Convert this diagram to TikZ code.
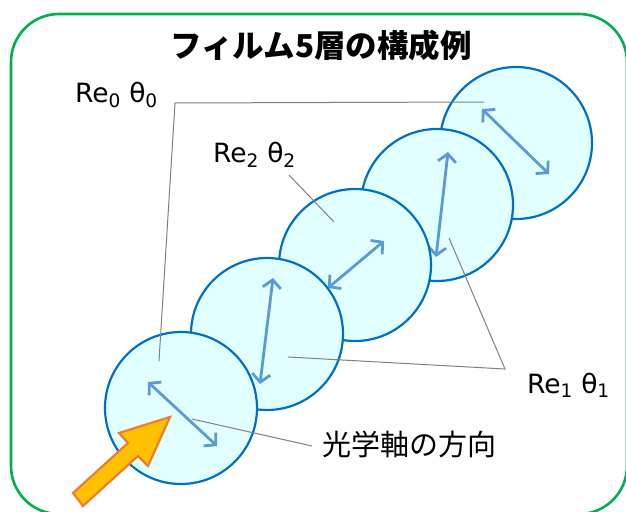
\documentclass[tikz,border=0pt]{standalone}
\usepackage{fontspec}
\setmainfont{DejaVu Sans}
\newfontfamily\jpfont{Noto Sans CJK JP}
\usepackage{tikz}
\usetikzlibrary{calc,arrows.meta}

\definecolor{framegreen}{RGB}{0,176,80}
\definecolor{filmblue}{RGB}{0,112,192}
\definecolor{filmfill}{RGB}{225,255,255}
\definecolor{axisblue}{RGB}{91,155,213}
\definecolor{leadergray}{RGB}{128,128,128}
\definecolor{beamfill}{RGB}{255,192,0}
\definecolor{beamline}{RGB}{237,125,49}

\begin{document}
\begin{tikzpicture}[x=1pt, y=-1pt, outer sep=0pt]

\tikzstyle{film}=[circle,draw=filmblue,fill=filmfill,line width=2.2pt,minimum size=152pt,inner sep=0pt]
\tikzstyle{optaxis}=[draw=axisblue,line width=2.8pt,{Straight Barb[length=8pt,width=18pt]}-{Straight Barb[length=8pt,width=18pt]}]
\tikzstyle{leader}=[draw=leadergray,line width=1pt]
\tikzstyle{paramtext}=[inner sep=0pt,anchor=base west,font=\fontsize{26.5}{30}\selectfont]

\useasboundingbox (0,0) rectangle (626,511);
\draw[framegreen,line width=2.6pt,rounded corners=48pt] (11,14) rectangle (627,514);

\node[font=\jpfont\bfseries\fontsize{31.5}{34}\selectfont] (title) at (321,45) {フィルム5層の構成例};

% five films, back to front
\node[film] (f5) at (516,143) {};
\draw[optaxis] ($(f5)+(-34,-34)$) -- ($(f5)+(33,31)$);
\node[film] (f4) at (437,205) {};
\draw[optaxis] ($(f4)+(11,-53)$) -- ($(f4)+(-1,52)$);
\node[film] (f3) at (355,265) {};
\draw[optaxis] ($(f3)+(-27,23)$) -- ($(f3)+(29,-24)$);
\node[film] (f2) at (267,334) {};
\draw[optaxis] ($(f2)+(6,-56)$) -- ($(f2)+(-7,50)$);
\node[film] (f1) at (181,408) {};
\draw[optaxis] ($(f1)+(-33,-26)$) -- ($(f1)+(36,38)$);

% labels
\node[paramtext] (re0) at (75,102) {Re\textsubscript{0} θ\textsubscript{0}};
\node[paramtext] (re2) at (213,162) {Re\textsubscript{2} θ\textsubscript{2}};
\node[paramtext] (re1) at (527,393) {Re\textsubscript{1} θ\textsubscript{1}};
\node[anchor=west,inner sep=0pt,font=\jpfont\fontsize{29}{32}\selectfont] (axis) at (322,444) {光学軸の方向};

\coordinate (k0) at (175,103);
\coordinate (k1) at (505,369);
\coordinate (k2) at (289,175);
\coordinate (k3) at (312,446);

\draw[leader] ($(f1)+(-22,-47)$) -- (k0) -- ($(f5)+(-32,-41)$);
\draw[leader] (k2) -- ($(f3)+(-21,-43)$);
\draw[leader] ($(f2)+(21,23)$) -- (k1) -- ($(f4)+(12,33)$);
\draw[leader] ($(f1)+(11,11)$) -- (k3);

% incident light
\draw[beamline,fill=beamfill,line width=2.2pt,line join=miter]
  (73,493) -- (128,443) -- (119,433) -- (170,417) -- (148,466) -- (138,456) -- (83,506) -- cycle;
\end{tikzpicture}
\end{document}
